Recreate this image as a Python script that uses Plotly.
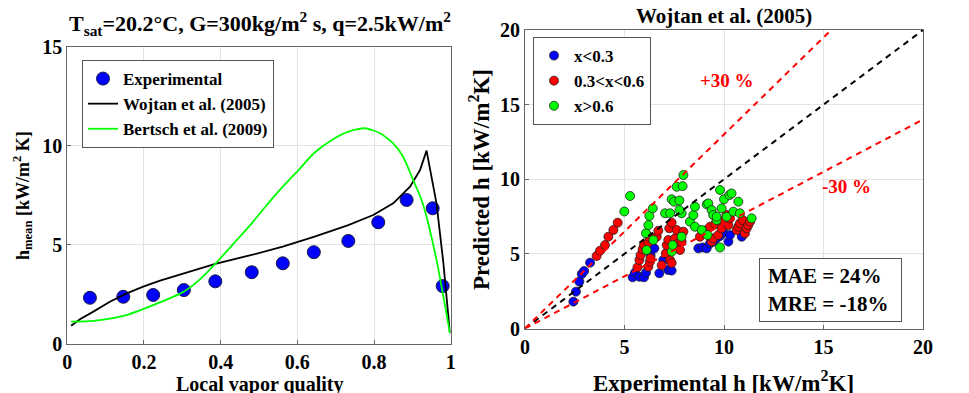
import plotly.graph_objects as go

# ---------------- Left panel data ----------------
exp_x = [0.059, 0.146, 0.224, 0.304, 0.386, 0.481, 0.562, 0.643, 0.733, 0.811, 0.885, 0.953, 0.979]
exp_y = [2.31, 2.36, 2.45, 2.70, 3.14, 3.60, 4.05, 4.61, 5.18, 6.12, 7.25, 6.83, 2.90]

woj_x = [0.010, 0.033, 0.068, 0.111, 0.155, 0.198, 0.242, 0.304, 0.386, 0.481, 0.562, 0.643,
         0.733, 0.798, 0.850, 0.894, 0.920, 0.937, 0.963, 0.981, 0.998]
woj_y = [0.90, 1.22, 1.61, 2.11, 2.53, 2.87, 3.17, 3.54, 4.02, 4.47, 4.89, 5.39,
         5.98, 6.49, 7.08, 7.92, 8.76, 9.74, 7.08, 4.05, 0.52]

ber_x = [0.010, 0.068, 0.146, 0.224, 0.304, 0.346, 0.386, 0.433, 0.481, 0.520, 0.562, 0.603,
         0.643, 0.690, 0.733, 0.776, 0.816, 0.850, 0.876, 0.902, 0.924, 0.937, 0.963, 0.981, 0.998]
ber_y = [1.10, 1.14, 1.39, 1.94, 2.62, 3.24, 4.02, 5.03, 6.07, 6.99, 7.92, 8.76,
         9.61, 10.28, 10.70, 10.87, 10.62, 10.11, 9.43, 8.26, 7.25, 6.40, 4.22, 2.36, 0.52]

# ---------------- Right panel data ----------------
blue_x = [2.43, 2.56, 2.73, 2.85, 2.97, 3.27,
          5.41, 5.53, 5.75, 5.98, 6.08, 6.31, 6.50, 6.75, 6.95, 7.20, 7.37,
          8.71, 8.93, 9.13, 9.30, 9.46, 9.63, 9.80, 9.97, 10.22, 10.30, 10.89]
blue_y = [1.80, 2.47, 3.14, 3.65, 3.85, 4.41,
          3.43, 3.74, 3.47, 3.43, 3.74, 4.92, 5.37, 3.70, 4.59, 3.92, 3.88,
          5.37, 5.43, 5.37, 5.71, 5.82, 6.04, 6.20, 6.42, 5.82, 6.26, 6.15]

red_x = [3.60, 3.77, 4.02, 4.19, 4.44, 4.66,
         5.65, 5.75, 5.81, 5.91, 5.98, 6.20, 6.28, 6.31, 6.20, 6.25, 6.62, 6.70, 6.87, 7.08,
         7.12, 7.20, 7.29, 7.37, 7.25, 7.37, 7.54, 7.62, 7.70, 7.79, 7.96, 7.87,
         8.79, 8.99, 9.13, 9.30, 9.38, 9.46, 9.55, 9.71, 9.80, 9.88, 10.00, 10.13, 10.22,
         10.30, 10.64, 10.72, 10.80, 10.94, 11.05, 11.14, 11.22, 11.31]
red_y = [4.86, 5.21, 5.59, 6.15, 6.60, 7.09,
         4.10, 4.59, 4.92, 5.30, 5.59, 4.14, 4.48, 4.70, 5.75, 6.11, 6.15, 6.55, 4.23, 5.04,
         5.59, 5.93, 4.57, 4.39, 6.71, 7.09, 6.04, 6.60, 5.71, 5.26, 6.49, 5.81,
         6.15, 6.42, 6.60, 6.82, 5.82, 6.04, 7.00, 6.26, 7.16, 6.71, 7.23, 7.60, 6.93,
         7.38, 6.60, 6.82, 7.04, 7.27, 6.37, 6.71, 6.93, 7.16]

green_x = [4.99, 5.28,
           6.11, 6.45, 6.08, 6.20, 6.25, 6.42, 7.04, 7.29, 7.37, 7.42, 7.37, 7.49, 7.62, 7.76,
           7.87, 7.92, 7.96, 7.87, 7.76,
           8.29, 8.46, 8.54, 8.54, 8.88, 9.13, 9.21, 9.38, 9.46, 9.63, 9.80, 9.88, 10.00, 10.13,
           10.27, 10.38, 10.47, 10.72, 10.80, 11.39, 9.80, 9.17, 9.63]
green_y = [7.84, 8.88,
           5.26, 5.93, 6.38, 6.93, 7.54, 8.05, 7.72, 7.72, 5.15, 5.59, 8.66, 8.50, 9.50, 8.58,
           7.72, 9.54, 10.28, 6.15, 7.94,
           7.16, 7.60, 8.16, 6.82, 6.60, 8.32, 8.38, 7.94, 7.60, 7.27, 9.28, 8.05, 8.66, 7.49,
           8.94, 9.05, 7.83, 8.50, 7.72, 7.38, 5.43, 6.26, 7.49]

ref_x = [0, 20]
plus30_x = [0, 20 / 1.3]
minus30_x = [0, 20]

FONT = "Liberation Serif"
W, H = 969, 393


def px(x):
    return x / W


def py(y):
    return 1 - y / H


fig = go.Figure()

# Left panel
fig.add_trace(go.Scatter(x=exp_x, y=exp_y, mode="markers", name="Experimental",
                         marker=dict(size=13, color="#0000FF", line=dict(color="#1a1a40", width=1)),
                         xaxis="x", yaxis="y", legend="legend"))
fig.add_trace(go.Scatter(x=woj_x, y=woj_y, mode="lines", name="Wojtan et al. (2005)",
                         line=dict(color="black", width=1.8),
                         xaxis="x", yaxis="y", legend="legend"))
fig.add_trace(go.Scatter(x=ber_x, y=ber_y, mode="lines", name="Bertsch et al. (2009)",
                         line=dict(color="#00FF00", width=1.8, shape="spline", smoothing=0.6),
                         xaxis="x", yaxis="y", legend="legend"))

# Right panel
mk = dict(size=9, line=dict(color="#202020", width=0.8))
fig.add_trace(go.Scatter(x=blue_x, y=blue_y, mode="markers", name="x<0.3",
                         marker=dict(color="#0000FF", **mk), xaxis="x2", yaxis="y2", legend="legend2"))
fig.add_trace(go.Scatter(x=red_x, y=red_y, mode="markers", name="0.3<x<0.6",
                         marker=dict(color="#FF0000", **mk), xaxis="x2", yaxis="y2", legend="legend2"))
fig.add_trace(go.Scatter(x=green_x, y=green_y, mode="markers", name="x>0.6",
                         marker=dict(color="#00FF00", **mk), xaxis="x2", yaxis="y2", legend="legend2"))
fig.add_trace(go.Scatter(x=ref_x, y=ref_x, mode="lines", showlegend=False,
                         line=dict(color="black", width=2, dash="6px,5px"), xaxis="x2", yaxis="y2"))
fig.add_trace(go.Scatter(x=plus30_x, y=[v * 1.3 for v in plus30_x], mode="lines", showlegend=False,
                         line=dict(color="#FF0000", width=2, dash="6px,5px"), xaxis="x2", yaxis="y2"))
fig.add_trace(go.Scatter(x=minus30_x, y=[v * 0.7 for v in minus30_x], mode="lines", showlegend=False,
                         line=dict(color="#FF0000", width=2, dash="6px,5px"), xaxis="x2", yaxis="y2"))

axis_common = dict(showline=True, mirror=True, linecolor="#666666", linewidth=1,
                   showgrid=True, gridcolor="#e3e3e3", gridwidth=1, zeroline=False,
                   ticks="inside", ticklen=4, tickcolor="#666666", automargin=False,
                   tickfont=dict(family=FONT, size=20, color="black", weight="bold"))

fig.update_layout(
    width=W, height=H,
    margin=dict(l=0, r=0, t=0, b=0),
    paper_bgcolor="white", plot_bgcolor="white",
    font=dict(family=FONT, color="black"),
    xaxis=dict(domain=[px(67.3), px(450.7)], range=[0, 1], dtick=0.2, anchor="y", **axis_common),
    yaxis=dict(domain=[py(343.5), py(46.5)], range=[0, 15], dtick=5, anchor="x", **axis_common),
    xaxis2=dict(domain=[px(525), px(923)], range=[0, 20], dtick=5, anchor="y2", **axis_common),
    yaxis2=dict(domain=[py(328.5), py(30)], range=[0, 20], dtick=5, anchor="x2", **axis_common),
    legend=dict(x=px(82), y=py(60), xanchor="left", yanchor="top",
                bgcolor="white", bordercolor="#555555", borderwidth=1,
                font=dict(family=FONT, size=17, color="black", weight="bold"),
                itemwidth=30, tracegroupgap=0),
    legend2=dict(x=px(533), y=py(37), xanchor="left", yanchor="top",
                 bgcolor="white", bordercolor="#555555", borderwidth=1,
                 font=dict(family=FONT, size=17, color="black", weight="bold"),
                 itemwidth=30, tracegroupgap=0),
    showlegend=True,
)


def ann(text, x, y, size, color="black", **kw):
    return dict(text=text, x=px(x), y=py(y), xref="paper", yref="paper", showarrow=False,
                xanchor="center", yanchor="middle",
                font=dict(family=FONT, size=size, color=color, weight="bold"), **kw)


annotations = [
    ann("T<sub>sat</sub>=20.2°C, G=300kg/m<sup>2</sup> s, q=2.5kW/m<sup>2</sup>", 260, 23, 22),
    ann("Wojtan et al. (2005)", 724, 16, 21),
    ann("Local vapor quality", 259, 384, 20),
    ann("h<sub>mean</sub> [kW/m<sup>2</sup> K]", 22, 196, 18, textangle=-90),
    ann("Experimental h [kW/m<sup>2</sup>K]", 723, 381, 23),
    ann("Predicted h [kW/m<sup>2</sup>K]", 479, 180, 23, textangle=-90),
    ann("+30 %", 727, 80, 19, color="#FF0000"),
    ann("-30 %", 846, 186, 19, color="#FF0000"),
    ann("MAE = 24%<br>MRE = -18%", 830.5, 290, 21, align="left", width=125, height=46,
        borderpad=8, bordercolor="#555555", borderwidth=1, bgcolor="white"),
]
fig.update_layout(annotations=annotations)

fig.write_html("out.html", config={"displayModeBar": False},
               post_script="document.body.style.margin='0';")
